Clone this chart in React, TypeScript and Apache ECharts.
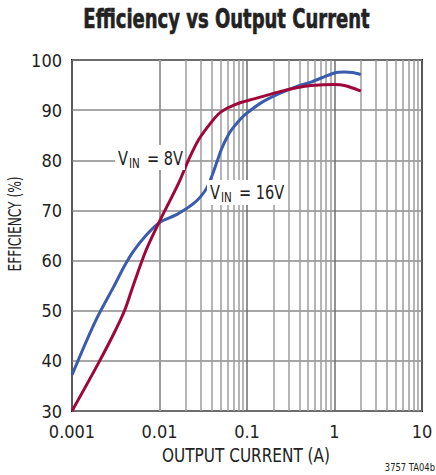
import React, { useEffect, useRef } from "react";
import * as echarts from "echarts";

const xTickLabels = ["0.001", "0.01", "0.1", "1", "10"];
const yTicks = [30, 40, 50, 60, 70, 80, 90, 100];
const minorGrid = [
  0.002, 0.003, 0.004, 0.005, 0.006, 0.007, 0.008, 0.009,
  0.02, 0.03, 0.04, 0.05, 0.06, 0.07, 0.08, 0.09,
  0.2, 0.3, 0.4, 0.5, 0.6, 0.7, 0.8, 0.9,
  2, 3, 4, 5, 6, 7, 8, 9,
];

// VIN = 8V
const red8VCurrent = [0.001, 0.002, 0.003, 0.004, 0.005, 0.007, 0.01, 0.0166, 0.0215, 0.028, 0.04, 0.05, 0.073, 0.123, 0.226, 0.38, 0.54, 1.0, 1.3, 2.0];
const red8VEff = [30, 39.5, 45.4, 50.1, 55.0, 62, 67.8, 75.5, 80.1, 84.1, 87.8, 89.6, 91.1, 92.3, 93.6, 94.5, 94.9, 95.1, 94.9, 93.8];

// VIN = 16V
const blue16VCurrent = [0.001, 0.0015, 0.002, 0.003, 0.004, 0.005, 0.007, 0.01, 0.015, 0.02, 0.025, 0.03, 0.035, 0.04, 0.046, 0.0513, 0.06, 0.0668, 0.08, 0.095, 0.146, 0.226, 0.38, 0.54, 1.0, 1.3, 1.6, 2.0];
const blue16VEff = [37.2, 44.4, 49.1, 54.8, 59.0, 61.8, 65.0, 67.6, 69.0, 70.3, 71.5, 72.9, 74.6, 77.0, 80.0, 82.3, 84.8, 86.1, 87.8, 89.1, 91.5, 93.2, 94.8, 95.6, 97.4, 97.6, 97.5, 97.1];

const FONT = "'DejaVu Sans Condensed', 'Liberation Sans Narrow', sans-serif";
const RED = "#a0063a";
const BLUE = "#3a5cac";

function vinLabel(x: number, baseline: number, rest: string) {
  return {
    type: "group",
    x,
    y: baseline,
    scaleX: 0.85,
    z: 20,
    children: [
      { type: "text", x: 0, y: -15, z: 20, style: { text: "V", font: `19px ${FONT}`, fill: "#222" } },
      { type: "text", x: 13, y: -8, z: 20, style: { text: "IN", font: `13.5px ${FONT}`, fill: "#222" } },
      { type: "text", x: 34, y: -15, z: 20, style: { text: rest, font: `19px ${FONT}`, fill: "#222" } },
    ],
  };
}

export default function App() {
  const ref = useRef<HTMLDivElement>(null);
  useEffect(() => {
    if (!ref.current) return;
    const chart = echarts.init(ref.current, null, { renderer: "svg" });
    const redData = red8VCurrent.map((x, i) => [x, red8VEff[i]]);
    const blueData = blue16VCurrent.map((x, i) => [x, blue16VEff[i]]);
    chart.setOption({
      animation: false,
      backgroundColor: "#fff",
      textStyle: { fontFamily: FONT },
      grid: { left: 72, right: 14, top: 60, bottom: 64, show: true, borderColor: "#1a1a1a", borderWidth: 2, backgroundColor: "transparent", containLabel: false },
      xAxis: {
        type: "log",
        logBase: 10,
        min: 0.001,
        max: 10,
        axisLine: { show: false },
        axisTick: { show: false },
        axisLabel: {
          fontFamily: FONT,
          fontSize: 18,
          color: "#222",
          margin: 11,
          formatter: (v: number) => {
            const idx = Math.round(Math.log10(v)) + 3;
            return xTickLabels[idx] ?? "";
          },
        },
        splitLine: { show: true, lineStyle: { color: "#6e6e6e", width: 1.5 } },
      },
      yAxis: {
        type: "value",
        min: yTicks[0],
        max: yTicks[yTicks.length - 1],
        interval: 10,
        axisLine: { show: false },
        axisTick: { show: false },
        axisLabel: { fontFamily: FONT, fontSize: 18, color: "#222", margin: 10 },
        splitLine: { show: true, lineStyle: { color: "#8a8a8a", width: 1.5 } },
      },
      series: [
        {
          type: "line",
          data: [[0.001, 30]],
          symbol: "none",
          lineStyle: { opacity: 0 },
          z: 1,
          silent: true,
          markLine: {
            silent: true,
            symbol: ["none", "none"],
            label: { show: false },
            lineStyle: { color: "#9d9d9d", width: 1.5, type: "solid" },
            data: minorGrid.map((v) => ({ xAxis: v })),
          },
        },
        {
          type: "line",
          name: "16V",
          data: blueData,
          smooth: 0.3,
          symbol: "none",
          lineStyle: { color: BLUE, width: 3 },
          z: 5,
        },
        {
          type: "line",
          name: "8V",
          data: redData,
          smooth: 0.3,
          symbol: "none",
          lineStyle: { color: RED, width: 3 },
          z: 6,
        },
      ],
      graphic: [
        {
          type: "text",
          x: 226.5,
          y: 18,
          scaleX: 0.77,
          z: 20,
          style: { text: "Efficiency vs Output Current", font: `bold 26px ${FONT}`, fill: "#222", stroke: "#222", lineWidth: 0.6, align: "center", verticalAlign: "middle" },
        },
        { type: "rect", shape: { x: 115, y: 145, width: 70, height: 25 }, style: { fill: "#fff" }, z: 15 },
        { type: "rect", shape: { x: 207, y: 180, width: 80, height: 25 }, style: { fill: "#fff" }, z: 15 },
        vinLabel(118, 164, "= 8V"),
        vinLabel(210, 198, "= 16V"),
        {
          type: "text",
          x: 15,
          y: 224,
          rotation: Math.PI / 2,
          scaleX: 0.8,
          z: 20,
          style: { text: "EFFICIENCY (%)", font: `17px ${FONT}`, fill: "#222", align: "center", verticalAlign: "middle" },
        },
        {
          type: "text",
          x: 246,
          y: 455,
          scaleX: 0.85,
          z: 20,
          style: { text: "OUTPUT CURRENT (A)", font: `20px ${FONT}`, fill: "#222", align: "center", verticalAlign: "middle" },
        },
        {
          type: "text",
          x: 435,
          y: 467,
          scaleX: 0.85,
          z: 20,
          style: { text: "3757 TA04b", font: `11px ${FONT}`, fill: "#222", align: "right", verticalAlign: "middle" },
        },
      ],
    });
    return () => chart.dispose();
  }, []);
  return <div ref={ref} style={{ width: 436, height: 475, position: "absolute", left: 0, top: 0 }} />;
}
